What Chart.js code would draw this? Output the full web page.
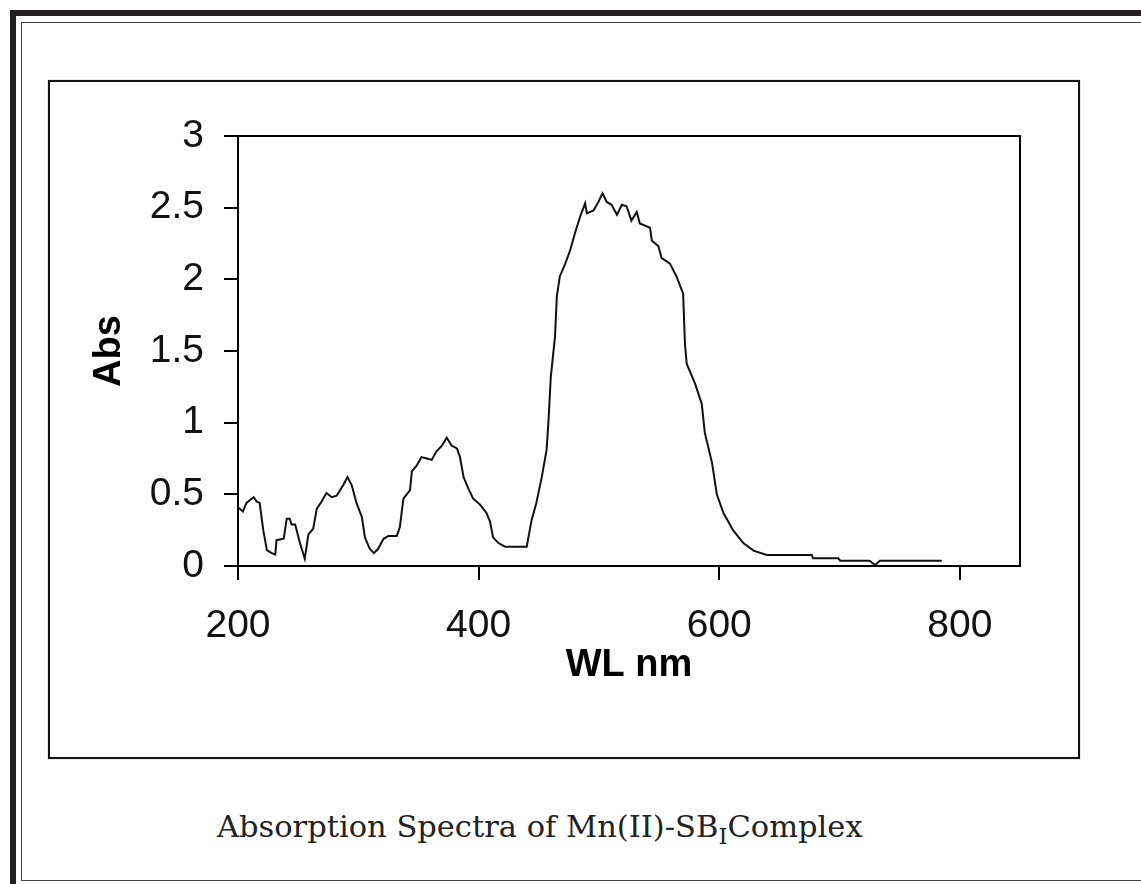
<!DOCTYPE html>
<html>
<head>
<meta charset="utf-8">
<script src="https://cdn.jsdelivr.net/npm/chart.js@4"></script>
<style>
  html, body { margin: 0; padding: 0; background: #fff; }
  body { width: 1141px; height: 884px; position: relative; overflow: hidden; }
  .outer { position: absolute; left: 10px; top: 10px; width: 1200px; height: 1000px;
           border-top: 6px solid #231f20; border-left: 6px solid #231f20; }
  .inner { position: absolute; left: 21px; top: 22px; width: 1200px; height: 857px;
           border-top: 1px solid #444; border-left: 1px solid #444; border-bottom: 1px solid #444; }
  .box { position: absolute; left: 48px; top: 80px; width: 1028px; height: 675px;
         border: 2px solid #111; box-shadow: 0 0 1px #777; }
  .caption { position: absolute; left: 217px; top: 809px; font-family: "DejaVu Serif", serif;
             font-size: 30.5px; color: #222; white-space: nowrap; }
  .caption sub { font-size: 23px; vertical-align: -7px; }
  canvas { position: absolute; left: 0; top: 0; }
</style>
</head>
<body>
<div class="outer"></div>
<div class="inner"></div>
<div class="box"></div>
<div class="caption">Absorption Spectra of Mn(II)-SB<sub>I</sub>Complex</div>
<canvas id="myGraph" width="1141" height="884"></canvas>
<script>
// wavelength (nm) and absorbance
const wavelength = [200, 204, 207, 213, 215.5, 218, 221, 224, 228, 231, 232, 238, 240.5, 243, 244.5, 247.5,
   251.5, 255.5, 258.5, 262.5, 265.5, 269.5, 273.5, 278, 282, 287.5, 291, 294.5, 298.5, 303, 305.5, 309.5,
   313, 316.5, 321, 325, 332, 334.5, 336, 337.5, 343, 344.5, 348.5, 352.5, 357, 361, 365, 369.5, 373.5,
   377.5, 382, 384.5, 387.5, 391.5, 395.5, 401, 406.5, 409.5, 412, 416.5, 422, 440, 444, 448, 452.5,
   456.5, 458, 460, 463.5, 465, 467.5, 472, 476, 480, 484.5, 488.5, 490, 495.5, 499.5, 503, 506.5, 510.5,
   515, 519, 523, 527, 531.5, 534, 542.5, 544, 549.5, 552, 559, 564.5, 570, 571.5, 573, 580, 585.5, 588,
   594, 598, 603.5, 611.5, 620, 628.5, 639.5, 677, 678, 699, 700.5, 725, 729.5, 733.5, 785];
const absorbance = [0.41, 0.38, 0.44, 0.48, 0.45, 0.44, 0.25, 0.11, 0.09, 0.08, 0.18, 0.19, 0.33, 0.33, 0.29, 0.29,
   0.16, 0.05, 0.22, 0.26, 0.40, 0.45, 0.51, 0.48, 0.49, 0.565, 0.62, 0.565, 0.44, 0.34, 0.20, 0.12,
   0.09, 0.12, 0.19, 0.21, 0.21, 0.27, 0.37, 0.47, 0.53, 0.66, 0.70, 0.76, 0.75, 0.74, 0.80, 0.84, 0.895,
   0.84, 0.82, 0.76, 0.62, 0.54, 0.47, 0.43, 0.37, 0.31, 0.20, 0.16, 0.135, 0.135, 0.32, 0.44, 0.62,
   0.81, 1.00, 1.32, 1.60, 1.88, 2.02, 2.11, 2.20, 2.32, 2.44, 2.53, 2.46, 2.48, 2.54, 2.60, 2.54, 2.52,
   2.45, 2.52, 2.51, 2.41, 2.47, 2.39, 2.36, 2.27, 2.23, 2.15, 2.11, 2.02, 1.90, 1.55, 1.41, 1.27, 1.13, 0.93,
   0.72, 0.50, 0.37, 0.25, 0.16, 0.107, 0.077, 0.077, 0.054, 0.054, 0.037, 0.037, 0.007, 0.037, 0.037];
const xTicks = [200, 400, 600, 800];
const yTicks = [0, 0.5, 1, 1.5, 2, 2.5, 3];

const tickFont = { family: "'Liberation Sans Narrow', 'Arial Narrow', 'Liberation Sans', sans-serif", size: 39 };
const titleFont = { family: "'Liberation Sans', Arial, sans-serif", size: 38, weight: "bold" };

const frame = {
   id: "frame",
   afterDraw(chart) {
      const a = chart.chartArea, c = chart.ctx;
      c.save();
      c.strokeStyle = "#000";
      c.lineWidth = 2;
      c.strokeRect(a.left, a.top, a.right - a.left, a.bottom - a.top);
      c.restore();
   }
};

const canvas = document.querySelector("#myGraph").getContext("2d");
let chart = new Chart(canvas, {
   type: "line",
   data: {
      datasets: [{
         data: wavelength.map((w, i) => ({ x: w, y: absorbance[i] })),
         borderColor: "#111",
         borderWidth: 2,
         pointRadius: 0,
         tension: 0,
         fill: false
      }]
   },
   plugins: [frame],
   options: {
      responsive: false,
      devicePixelRatio: 1,
      animation: false,
      layout: { padding: { top: 136, right: 121, left: 0, bottom: 196 } },
      plugins: { legend: { display: false }, tooltip: { enabled: false } },
      scales: {
         x: {
            type: "linear",
            min: 200,
            max: 850,
            afterFit: s => { s.height = 122; },
            afterBuildTicks: s => { s.ticks = xTicks.map(v => ({ value: v })); },
            grid: { drawOnChartArea: false, drawTicks: true, tickLength: 14, color: "#000", lineWidth: 2 },
            border: { display: true, color: "#000", width: 2 },
            ticks: { color: "#111", font: tickFont, padding: 23, maxRotation: 0, callback: v => String(v) },
            title: { display: true, text: "WL nm", color: "#000", font: titleFont, padding: 0 }
         },
         y: {
            min: 0,
            max: 3,
            afterFit: s => { s.width = 238; },
            afterBuildTicks: s => { s.ticks = yTicks.map(v => ({ value: v })); },
            grid: { drawOnChartArea: false, drawTicks: true, tickLength: 14, color: "#000", lineWidth: 2 },
            border: { display: true, color: "#000", width: 2 },
            ticks: { color: "#111", font: tickFont, padding: 20, callback: v => String(v) },
            title: { display: true, text: "Abs", color: "#000", font: titleFont, padding: { top: 87, bottom: 0 } }
         }
      }
   }
});
</script>
</body>
</html>
